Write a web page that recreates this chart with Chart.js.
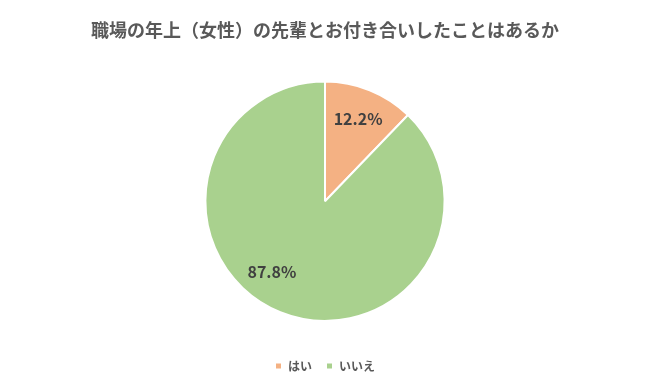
<!DOCTYPE html>
<html>
<head>
<meta charset="utf-8">
<script src="https://cdn.jsdelivr.net/npm/chart.js@4"></script>
<style>
  html, body { margin: 0; padding: 0; background: #fff; }
  #wrap { width: 650px; height: 390px; }
</style>
</head>
<body>
<div id="wrap"><canvas id="pieChart" width="650" height="390"></canvas></div>
<script>
// Chart data
const chartTitle = '職場の年上（女性）の先輩とお付き合いしたことはあるか';
const answers = ['はい', 'いいえ'];
const shares = [12.2, 87.8];
const sliceColors = ['#F4B183', '#A9D18E'];

const FONT = '"Noto Sans CJK JP", "Noto Sans", sans-serif';

// Simple percentage labels inside each slice
const sliceLabels = {
    id: 'sliceLabels',
    afterDatasetsDraw(chart, args, opts) {
        const ctx = chart.ctx;
        const meta = chart.getDatasetMeta(0);
        ctx.save();
        ctx.font = 'bold 16px ' + FONT;
        ctx.fillStyle = '#404040';
        ctx.textAlign = 'center';
        ctx.textBaseline = 'middle';
        meta.data.forEach((arc, i) => {
            const p = arc.getProps(['x', 'y', 'startAngle', 'endAngle', 'outerRadius'], true);
            const shift = (opts.angleShift && opts.angleShift[i]) || 0;
            const mid = (p.startAngle + p.endAngle) / 2 + shift;
            const r = p.outerRadius * opts.radiusFraction;
            ctx.fillText(shares[i].toFixed(1) + '%', p.x + Math.cos(mid) * r, p.y + Math.sin(mid) * r);
        });
        ctx.restore();
    }
};

new Chart(document.getElementById('pieChart').getContext('2d'), {
    type: 'pie',
    data: {
        labels: answers,
        datasets: [{
            data: shares,
            backgroundColor: sliceColors,
            borderColor: '#ffffff',
            borderWidth: 2
        }]
    },
    options: {
        responsive: false,
        animation: false,
        layout: { padding: { top: 0, bottom: 8 } },
        plugins: {
            title: {
                display: true,
                text: chartTitle,
                color: '#595959',
                font: { family: FONT, size: 18, weight: 'bold' },
                padding: { top: 19, bottom: 40 }
            },
            legend: {
                position: 'bottom',
                title: { display: true, text: ' ', font: { size: 1 }, padding: { top: 23, bottom: 0 } },
                labels: {
                    boxWidth: 7,
                    boxHeight: 7,
                    color: '#595959',
                    padding: 14,
                    font: { family: FONT, size: 12, weight: 'bold' }
                }
            },
            tooltip: { enabled: false },
            sliceLabels: { radiusFraction: 0.74, angleShift: [0, 0.26] }
        }
    },
    plugins: [sliceLabels]
});
</script>
</body>
</html>
